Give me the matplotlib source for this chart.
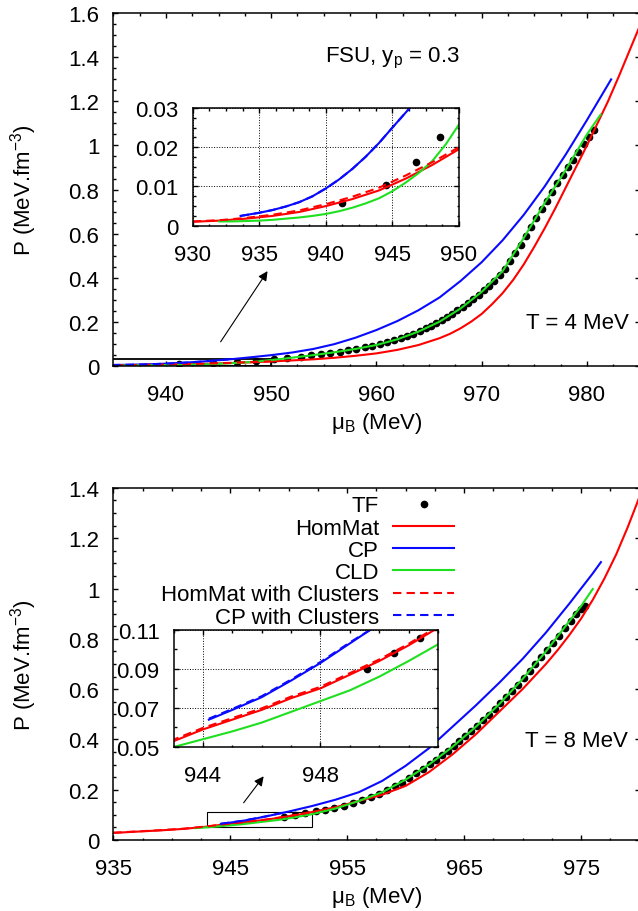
import matplotlib
matplotlib.use("Agg")
import matplotlib.pyplot as plt
from matplotlib.ticker import MultipleLocator, AutoMinorLocator, FuncFormatter, FixedLocator
from matplotlib.patches import Rectangle

plt.rcParams['font.family'] = ['Liberation Sans', 'DejaVu Sans']
plt.rcParams['mathtext.fontset'] = 'custom'
plt.rcParams['mathtext.rm'] = 'Liberation Sans'
plt.rcParams['mathtext.it'] = 'Liberation Sans:italic'
plt.rcParams['mathtext.default'] = 'regular'
plt.rcParams['font.size'] = 16

# ---------------- T = 4 MeV data ----------------
mu4_tf = [941.2, 944.5, 946.8, 948.6, 950.3, 951.5, 952.8, 953.8, 954.7, 955.6, 956.5, 957.3,
          958.1, 958.9, 959.6, 960.3, 961.0, 961.7, 962.3, 962.9, 963.5, 964.1, 964.7, 965.2,
          965.7, 966.2, 966.7, 967.2, 967.7, 968.2, 968.7, 969.2, 969.7, 970.2, 970.7, 971.2,
          971.7, 972.2, 972.7, 973.2, 973.7, 974.2, 974.7, 975.2, 975.7, 976.2, 976.7, 977.2,
          977.7, 978.2, 978.7, 979.2, 979.7, 980.2, 980.7]
p4_tf = [0.0057, 0.0105, 0.0162, 0.0227, 0.030, 0.035, 0.041, 0.047, 0.052, 0.058, 0.064, 0.070,
         0.076, 0.083, 0.090, 0.099, 0.107, 0.116, 0.125, 0.134, 0.144, 0.157, 0.170, 0.181,
         0.193, 0.206, 0.220, 0.235, 0.251, 0.267, 0.285, 0.304, 0.323, 0.343, 0.363, 0.385,
         0.41, 0.44, 0.475, 0.51, 0.55, 0.59, 0.63, 0.67, 0.71, 0.75, 0.79, 0.83,
         0.865, 0.90, 0.935, 0.97, 1.005, 1.04, 1.07]

mu4_hom = [930, 932, 934, 936, 938, 940, 942, 944, 946, 948, 950, 952, 954, 956, 958, 960, 962,
           964, 966, 967, 968, 969, 970, 971, 972, 973, 974, 975, 976, 977, 978, 979, 980, 981,
           982, 983, 984, 985]
p4_hom = [0.0010, 0.0013, 0.0018, 0.0025, 0.0035, 0.0050, 0.0068, 0.0090, 0.0120, 0.0155, 0.0195,
          0.024, 0.029, 0.036, 0.045, 0.056, 0.072, 0.094, 0.125, 0.145, 0.170, 0.200, 0.235,
          0.280, 0.330, 0.390, 0.460, 0.540, 0.625, 0.715, 0.810, 0.905, 1.00, 1.10, 1.20, 1.31,
          1.425, 1.54]

mu4_cp = [933.6, 935, 936, 937, 938, 939, 940, 941, 942, 943, 944, 945, 946.3, 948, 950, 952,
          954, 956, 958, 960, 962, 964, 966, 968, 970, 972, 974, 976, 978, 980, 982.3]
p4_cp = [0.0025, 0.0033, 0.0040, 0.0049, 0.0060, 0.0075, 0.0095, 0.0118, 0.0145, 0.0176, 0.0211,
         0.0250, 0.030, 0.038, 0.048, 0.060, 0.076, 0.098, 0.127, 0.162, 0.203, 0.252, 0.31,
         0.385, 0.47, 0.57, 0.685, 0.815, 0.96, 1.115, 1.30]

mu4_cld = [932, 933, 934, 935, 936, 937, 938, 939, 940, 941, 942, 943, 944, 945, 946, 947, 948,
           949, 950, 951, 952, 954, 956, 958, 960, 962, 964, 966, 968, 970, 972, 974, 976, 978,
           980, 981.3]
p4_cld = [0.0011, 0.0011, 0.0012, 0.0013, 0.0015, 0.0018, 0.0021, 0.0025, 0.0030, 0.0037, 0.0046,
          0.0057, 0.0070, 0.0088, 0.0110, 0.0135, 0.0165, 0.0207, 0.0258, 0.031, 0.0365, 0.048,
          0.061, 0.076, 0.094, 0.12, 0.155, 0.20, 0.26, 0.335, 0.43, 0.58, 0.74, 0.89, 1.05,
          1.14]

mu4_homcl = [930, 932, 934, 936, 938, 940, 942, 944, 946, 948, 950]
p4_homcl = [0.0011, 0.0014, 0.0020, 0.0028, 0.0039, 0.0055, 0.0074, 0.0097, 0.0128, 0.0162, 0.0200]

mu4_cpcl = [933.6, 935, 936, 937, 938, 939, 940, 941, 942, 943, 944, 945, 946.3]
p4_cpcl = [0.0025, 0.0033, 0.0040, 0.0049, 0.0060, 0.0075, 0.0095, 0.0118, 0.0145, 0.0176,
           0.0211, 0.0250, 0.030]

# ---------------- T = 8 MeV data ----------------
mu8_tf = [949.6, 950.5, 951.4, 952.3, 953.1, 953.9, 954.7, 955.5, 956.3, 957.0, 957.7, 958.4,
          959.1, 959.7, 960.3, 960.9, 961.5, 962.1, 962.6, 963.1, 963.6, 964.1, 964.6, 965.1,
          965.6, 966.1, 966.6, 967.1, 967.6, 968.1, 968.6, 969.1, 969.6, 970.1, 970.6, 971.1,
          971.6, 972.1, 972.6, 973.1, 973.6, 974.1, 974.6, 975.0, 975.3]
p8_tf = [0.090, 0.098, 0.106, 0.114, 0.121, 0.129, 0.137, 0.147, 0.158, 0.170, 0.183, 0.198,
         0.214, 0.228, 0.247, 0.266, 0.284, 0.303, 0.319, 0.337, 0.355, 0.374, 0.393, 0.413,
         0.433, 0.454, 0.476, 0.497, 0.519, 0.544, 0.568, 0.593, 0.618, 0.645, 0.672, 0.699,
         0.727, 0.755, 0.784, 0.813, 0.842, 0.871, 0.900, 0.920, 0.930]

mu8_hom = [935, 937, 939, 941, 943, 944, 945, 946, 947, 948, 949, 950, 951, 952, 954, 956, 958,
           960, 962, 964, 966, 968, 970, 971, 972, 973, 974, 975, 976, 977, 978, 979, 980]
p8_hom = [0.028, 0.033, 0.038, 0.044, 0.053, 0.059, 0.064, 0.069, 0.075, 0.080, 0.087, 0.094,
          0.102, 0.111, 0.130, 0.155, 0.180, 0.215, 0.27, 0.34, 0.42, 0.51, 0.60, 0.65, 0.70,
          0.755, 0.815, 0.88, 0.955, 1.04, 1.135, 1.245, 1.365]

mu8_cp = [944.2, 945, 946, 947, 948, 949, 950, 952, 954, 956, 958, 960, 962, 964, 966, 968, 970,
          972, 974, 976, 976.7]
p8_cp = [0.064, 0.069, 0.0755, 0.084, 0.093, 0.103, 0.113, 0.135, 0.16, 0.19, 0.235, 0.295,
         0.365, 0.45, 0.535, 0.625, 0.72, 0.825, 0.94, 1.06, 1.105]

mu8_cld = [942, 943, 944, 945, 946, 947, 948, 949, 950, 951, 952, 954, 956, 958, 960, 962, 964,
           966, 968, 970, 972, 974, 975, 976]
p8_cld = [0.047, 0.050, 0.054, 0.058, 0.0625, 0.068, 0.0735, 0.079, 0.086, 0.094, 0.1025, 0.125,
          0.155, 0.19, 0.24, 0.30, 0.37, 0.45, 0.54, 0.64, 0.75, 0.87, 0.93, 0.998]

mu8_homcl = [935, 937, 939, 941, 943, 944, 945, 946, 947, 948, 949, 950, 951, 952]
p8_homcl = [0.0288, 0.0338, 0.0388, 0.0448, 0.0538, 0.0598, 0.0648, 0.0698, 0.0758, 0.0808,
            0.0878, 0.0948, 0.1028, 0.1118]

mu8_cpcl = [944.2, 945, 946, 947, 948, 949, 949.7]
p8_cpcl = [0.0645, 0.0695, 0.076, 0.0845, 0.0935, 0.1035, 0.110]

labels = ['TF', 'HomMat', 'CP', 'CLD', 'HomMat with Clusters', 'CP with Clusters']

RED = '#ff0000'
BLUE = '#0a0aff'
GREEN = '#1ee01e'


def draw_curves(ax, tf, hom, cp, cld, homcl, cpcl):
    h = []
    h += ax.plot(tf[0], tf[1], 'o', color='k', ms=4.5, mec='k', ls='none')
    h += ax.plot(hom[0], hom[1], color=RED, lw=1.5)
    h += ax.plot(cp[0], cp[1], color=BLUE, lw=1.5)
    h += ax.plot(cld[0], cld[1], color=GREEN, lw=1.5)
    h += ax.plot(homcl[0], homcl[1], color=RED, lw=1.5, dashes=(4, 2.5))
    h += ax.plot(cpcl[0], cpcl[1], color=BLUE, lw=1.5, dashes=(4, 2.5))
    return h


fmt = FuncFormatter(lambda v, p: '%g' % round(v, 6))


def style(ax, xloc, yloc, xminor, yminor):
    ax.xaxis.set_major_locator(xloc)
    ax.yaxis.set_major_locator(yloc)
    ax.xaxis.set_minor_locator(xminor)
    ax.yaxis.set_minor_locator(yminor)
    ax.xaxis.set_major_formatter(fmt)
    ax.yaxis.set_major_formatter(fmt)
    ax.tick_params(which='both', direction='in', top=True, right=True, width=1.0)
    ax.tick_params(which='major', length=3.6)
    ax.tick_params(which='minor', length=1.8)
    ax.tick_params(axis='x', pad=13)
    ax.tick_params(axis='y', pad=10)
    for s in ax.spines.values():
        s.set_linewidth(1.1)


fig = plt.figure(figsize=(6.38, 9.12), dpi=100)

# ---------------- top panel ----------------
ax1 = fig.add_axes([0.1776, 0.5979, 0.8248, 0.3864])
draw_curves(ax1, (mu4_tf, p4_tf), (mu4_hom, p4_hom), (mu4_cp, p4_cp), (mu4_cld, p4_cld),
            (mu4_homcl, p4_homcl), (mu4_cpcl, p4_cpcl))
ax1.set_xlim(935, 985)
ax1.set_ylim(0, 1.6)
style(ax1, MultipleLocator(10), MultipleLocator(0.2), AutoMinorLocator(4), AutoMinorLocator(4))
ax1.set_xlabel(r'$\mu_B$ (MeV)')
ax1.set_ylabel(r'P (MeV.fm$^{-3}$)')
ax1.xaxis.set_label_coords(0.5, -0.125)
ax1.yaxis.set_label_coords(-0.142, 0.5)
ax1.text(961.5, 1.40, r'FSU, y$_p$ = 0.3', ha='center', va='center')
ax1.text(0.98, 0.123, 'T = 4 MeV', ha='right', va='center', transform=ax1.transAxes)
ax1.add_patch(Rectangle((930, 0), 20, 0.03, fill=False, lw=1.3, ec='k'))
ax1.annotate('', xy=(949.8, 0.44), xytext=(945.05, 0.098),
             arrowprops=dict(arrowstyle='-|>', lw=0.8, color='k', mutation_scale=14))

ins1 = fig.add_axes([0.302, 0.7514, 0.4174, 0.1291])
draw_curves(ins1, (mu4_tf, p4_tf), (mu4_hom, p4_hom), (mu4_cp, p4_cp), (mu4_cld, p4_cld),
            (mu4_homcl, p4_homcl), (mu4_cpcl, p4_cpcl))
ins1.set_xlim(930, 950)
ins1.set_ylim(0, 0.03)
style(ins1, MultipleLocator(5), MultipleLocator(0.01), AutoMinorLocator(4), AutoMinorLocator(4))
ins1.grid(which='major', ls=':', color='k', lw=0.7)

# ---------------- bottom panel ----------------
ax2 = fig.add_axes([0.1776, 0.0779, 0.8248, 0.3860])
hs = draw_curves(ax2, (mu8_tf, p8_tf), (mu8_hom, p8_hom), (mu8_cp, p8_cp), (mu8_cld, p8_cld),
                 (mu8_homcl, p8_homcl), (mu8_cpcl, p8_cpcl))
ax2.set_xlim(935, 980)
ax2.set_ylim(0, 1.4)
style(ax2, MultipleLocator(10, offset=5), MultipleLocator(0.2), AutoMinorLocator(4),
      AutoMinorLocator(4))
ax2.set_xlabel(r'$\mu_B$ (MeV)')
ax2.set_ylabel(r'P (MeV.fm$^{-3}$)')
ax2.xaxis.set_label_coords(0.5, -0.125)
ax2.yaxis.set_label_coords(-0.142, 0.5)
ax2.text(0.977, 0.282, 'T = 8 MeV', ha='right', va='center', transform=ax2.transAxes)
ax2.add_patch(Rectangle((943, 0.05), 9, 0.06, fill=False, lw=0.8, ec='k'))
ax2.annotate('', xy=(948.0, 0.262), xytext=(946.0, 0.139),
             arrowprops=dict(arrowstyle='-|>', lw=0.8, color='k', mutation_scale=14))
ax2.legend(hs, labels, loc='upper right', bbox_to_anchor=(0.6476, 0.979), frameon=False,
           markerfirst=False, handlelength=2.73, handletextpad=0.64, labelspacing=0.056,
           borderpad=0, borderaxespad=0, numpoints=1)

ins2 = fig.add_axes([0.2721, 0.1798, 0.4144, 0.1286])
draw_curves(ins2, (mu8_tf, p8_tf), (mu8_hom, p8_hom), (mu8_cp, p8_cp), (mu8_cld, p8_cld),
            (mu8_homcl, p8_homcl), (mu8_cpcl, p8_cpcl))
ins2.set_xlim(943, 952)
ins2.set_ylim(0.05, 0.11)
style(ins2, FixedLocator([944, 948]), MultipleLocator(0.02, offset=0.01),
      MultipleLocator(1), MultipleLocator(0.01))
ins2.grid(which='major', ls=':', color='k', lw=0.7)

fig.savefig('out.png', dpi=100)
